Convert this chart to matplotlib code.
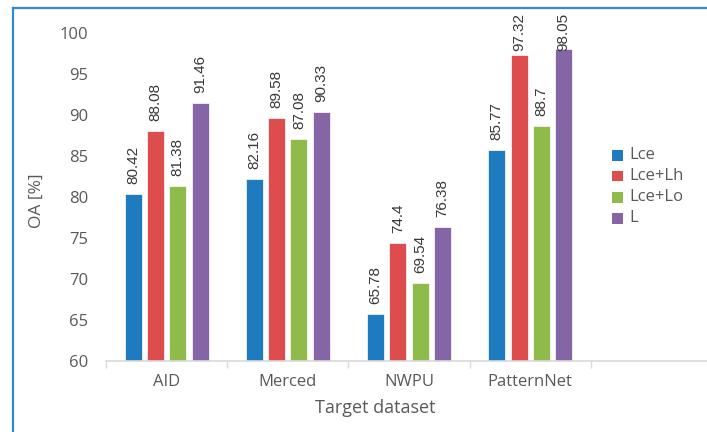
import matplotlib
matplotlib.use("Agg")
import matplotlib.pyplot as plt
from matplotlib.lines import Line2D
from matplotlib.patches import Rectangle
from matplotlib import font_manager
import numpy as np

categories = ["AID", "Merced", "NWPU", "PatternNet"]
series_names = ["Lce", "Lce+Lh", "Lce+Lo", "L"]
lce = [80.42, 82.16, 65.78, 85.77]
lce_lh = [88.08, 89.58, 74.4, 97.32]
lce_lo = [81.38, 87.08, 69.54, 88.7]
l_full = [91.46, 90.33, 76.38, 98.05]
value_labels = [
    ["80.42", "82.16", "65.78", "85.77"],
    ["88.08", "89.58", "74.4", "97.32"],
    ["81.38", "87.08", "69.54", "88.7"],
    ["91.46", "90.33", "76.38", "98.05"],
]
yticks = [60, 65, 70, 75, 80, 85, 90, 95, 100]
colors = ["#1f7bbf", "#de4d4d", "#8fbb4b", "#8565a6"]

names = {f.name for f in font_manager.fontManager.ttflist}
if "Liberation Sans Narrow" in names:
    lab_family, lab_size = "Liberation Sans Narrow", 11.5
else:
    lab_family, lab_size = "Liberation Sans", 11
txt_family = ["Open Sans", "DejaVu Sans"]
grey = "#595959"

W, H = 707, 432
fig = plt.figure(figsize=(W / 100, H / 100), dpi=100)
cat_px = 121.2
ax = fig.add_axes([106 / W, (H - 361) / H, (707 - 106) / W, (361 - 33) / H])

x = np.arange(len(categories))
slot = 0.184
bw = 0.14
all_series = [lce, lce_lh, lce_lo, l_full]
texts = []
for i, vals in enumerate(all_series):
    offs = (i - 1.5) * slot
    ax.bar(x + offs, np.array(vals) - 60, bottom=60, width=bw, color=colors[i],
           edgecolor="#ffffff", linewidth=0.5, zorder=2)
    for xi, v, lab in zip(x, vals, value_labels[i]):
        t = ax.annotate(lab, (xi + offs, v), xytext=(0, 10), textcoords="offset pixels",
                        rotation=90, ha="center", va="bottom", fontsize=lab_size,
                        color="#383838", family=lab_family, annotation_clip=False)
        texts.append(t)

ax.set_ylim(60, 100)
ax.set_xlim(-0.5, -0.5 + (707 - 106) / cat_px)
ax.set_yticks(yticks)
ax.set_yticklabels([str(t) for t in yticks], fontsize=12, color=grey, family=txt_family)
ax.set_xticks(x)
ax.set_xticklabels(categories, fontsize=12, color=grey, family=txt_family)
ax.set_xticks(np.arange(-0.5, 4.0, 1.0), minor=True)
ax.tick_params(axis="x", which="major", length=0, pad=9)
ax.tick_params(axis="x", which="minor", length=5, color="#d9d9d9", width=1)
ax.tick_params(axis="y", length=0, pad=13)
for s in ["top", "right", "left"]:
    ax.spines[s].set_visible(False)
ax.spines["bottom"].set_color("#d9d9d9")
ax.spines["bottom"].set_linewidth(1.2)
ax.set_facecolor("none")

fig.text(37 / W, 1 - 201 / H, "OA [%]", rotation=90, ha="center", va="center",
         fontsize=12.5, color=grey, family=txt_family)
fig.text(375 / W, 1 - 408 / H, "Target dataset", ha="center", va="center",
         fontsize=13, color=grey, family=txt_family)

# legend
for k, (name, c) in enumerate(zip(series_names, colors)):
    yc = 155 + 21 * k
    fig.add_artist(Rectangle((612 / W, 1 - (yc + 5.5) / H), 11 / W, 11 / H,
                             facecolor=c, edgecolor="none", transform=fig.transFigure))
    fig.text(629 / W, 1 - yc / H, name, ha="left", va="center", fontsize=12,
             color=grey, family=txt_family)

# keep value labels inside the chart area (clamp at top)
fig.canvas.draw()
r = fig.canvas.get_renderer()
top_limit = H - 13
for t in texts:
    bb = t.get_window_extent(r)
    if bb.y1 > top_limit:
        t.set_position((0, 0))
        ydata = ax.transData.inverted().transform((0, top_limit))[1]
        t.xy = (t.xy[0], ydata)
        t.set_va("top")

# outer border
fig.add_artist(Line2D([13 / W, 1.0], [1 - 8 / H, 1 - 8 / H], color="#3389d0",
                      linewidth=1.6, transform=fig.transFigure))
fig.add_artist(Line2D([13 / W, 13 / W], [0, 1 - 8 / H], color="#3389d0",
                      linewidth=1.6, transform=fig.transFigure))

fig.savefig("out.png", dpi=100, facecolor="white")
